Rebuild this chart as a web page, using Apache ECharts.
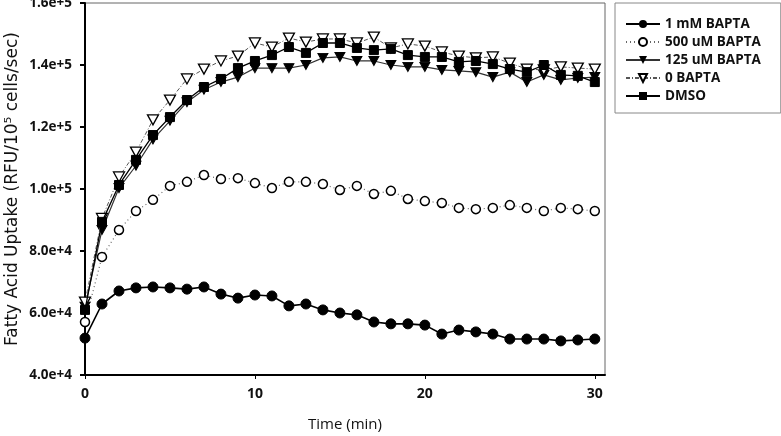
<!DOCTYPE html>
<html>
<head>
<meta charset="utf-8">
<script src="https://cdn.jsdelivr.net/npm/echarts@6/dist/echarts.min.js"></script>
<style>html,body{margin:0;padding:0;background:#fff;}#chart{width:781px;height:436px;}</style>
</head>
<body>
<div id="chart"></div>
<script>
// Time points (min)
const times = [0,1,2,3,4,5,6,7,8,9,10,11,12,13,14,15,16,17,18,19,20,21,22,23,24,25,26,27,28,29,30];
const seriesNames = ['1 mM BAPTA','500 uM BAPTA','125 uM BAPTA','0 BAPTA','DMSO'];
const bapta1mM = [51900,62900,67100,68100,68400,68100,67700,68400,66100,64800,65800,65500,62300,62900,61000,60000,59400,57100,56500,56500,56100,53200,54500,53900,53200,51600,51600,51600,51000,51300,51600];
const bapta500uM = [57100,78100,86800,92900,96500,101000,102300,104500,103200,103500,101900,100300,102300,102300,101600,99700,101000,98400,99400,96800,96100,95500,93900,93500,93900,94800,93900,92900,93900,93500,92900];
const bapta125uM = [62000,86800,100300,107500,116000,122000,128000,132000,134500,136100,139000,139000,139000,140000,142300,142600,141300,141300,140000,139400,139400,138400,138100,137700,136100,137700,134500,136800,135200,135800,136100];
const bapta0 = [63500,90500,103900,111900,122300,128700,135500,138700,141300,142900,147100,145800,148700,147400,148400,148400,147100,149000,145500,146800,146100,144200,142900,142300,142600,140600,138700,138400,139400,139000,138700];
const dmso = [61000,89400,101300,109400,117400,123200,128700,132900,135500,139000,141300,143200,145800,143900,147100,147100,145500,144800,145200,143200,142600,142600,141000,141300,140300,138700,137700,140000,136800,136500,134500];
const xTicks = [0,10,20,30];

const pairs = arr => times.map((t,i)=>[t,arr[i]]);
const FONT = '"Open Sans"';
const downTri = 'path://M0,0L10,0L5,9Z';

const chart = echarts.init(document.getElementById('chart'), null, {renderer:'canvas'});
chart.setOption({
  animation:false,
  backgroundColor:'#fff',
  textStyle:{fontFamily:FONT},
  grid:{left:85, top:3, right:176, bottom:61, containLabel:false, outerBoundsMode:'none',
    show:true, borderColor:'#666', borderWidth:1},
  legend:{
    orient:'vertical', left:615, top:3,
    backgroundColor:'#fff', borderColor:'#888', borderWidth:1,
    padding:[14,20,10,10], itemGap:4, itemWidth:34, itemHeight:10,
    textStyle:{fontFamily:FONT, fontSize:13.5, fontWeight:'bold', color:'#111', lineHeight:14},
    data:seriesNames
  },
  xAxis:{
    type:'value', min:0, max:30.6, interval:10,
    name:'Time (min)', nameLocation:'middle', nameGap:42, nameMoveOverlap:false,
    nameTextStyle:{fontFamily:FONT, fontSize:15, color:'#111'},
    axisLine:{lineStyle:{color:'#000', width:2}},
    axisTick:{length:4, lineStyle:{color:'#000'}},
    splitLine:{show:false},
    axisLabel:{fontFamily:FONT, fontSize:14, fontWeight:'bold', color:'#111', margin:12, showMaxLabel:false,
      formatter:v => xTicks.indexOf(v) >= 0 ? String(v) : ''}
  },
  yAxis:{
    type:'value', min:40000, max:160000, interval:20000,
    name:'Fatty Acid Uptake (RFU/10\u2075 cells/sec)', nameLocation:'middle', nameGap:64, nameRotate:90,
    nameMoveOverlap:false,
    nameTextStyle:{fontFamily:'"DejaVu Sans"', fontSize:17, color:'#111'},
    axisLine:{show:true, lineStyle:{color:'#000', width:2}},
    axisTick:{show:true, length:5, lineStyle:{color:'#000', width:2}},
    splitLine:{show:false},
    axisLabel:{fontFamily:FONT, fontSize:13.5, fontWeight:'bold', color:'#111', margin:13,
      formatter:v => v.toExponential(1)}
  },
  series:[
    {name:seriesNames[0], type:'line', data:pairs(bapta1mM), symbol:'circle', symbolSize:10,
      itemStyle:{color:'#000', borderColor:'#000'}, lineStyle:{color:'#000', width:1.6}, z:2},
    {name:seriesNames[1], type:'line', data:pairs(bapta500uM), symbol:'circle', symbolSize:9,
      itemStyle:{color:'#fff', borderColor:'#000', borderWidth:1.5}, lineStyle:{color:'#666', width:1.2, type:[1,3]}, z:2},
    {name:seriesNames[2], type:'line', data:pairs(bapta125uM), symbol:downTri, symbolSize:[10,9],
      itemStyle:{color:'#000', borderColor:'#000'}, lineStyle:{color:'#333', width:1.2}, z:3},
    {name:seriesNames[3], type:'line', data:pairs(bapta0), symbol:downTri, symbolSize:[11,10],
      itemStyle:{color:'#fff', borderColor:'#000', borderWidth:1.3}, lineStyle:{color:'#555', width:1, type:[4,2,1,2]}, z:4},
    {name:seriesNames[4], type:'line', data:pairs(dmso), symbol:'rect', symbolSize:9,
      itemStyle:{color:'#000', borderColor:'#000'}, lineStyle:{color:'#000', width:1.3}, z:5}
  ]
});
</script>
</body>
</html>
